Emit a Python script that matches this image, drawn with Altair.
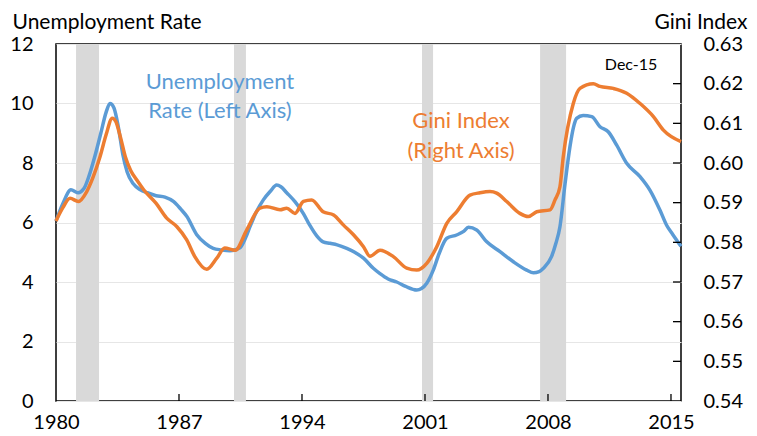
import altair as alt
import pandas as pd

# ---- data ----
un_year = [1980.0, 1980.4, 1980.85, 1981.25, 1981.6, 1981.9, 1982.2, 1982.55, 1982.85, 1983.07,
           1983.3, 1983.55, 1983.8, 1984.05, 1984.4, 1984.8, 1985.2, 1985.7, 1986.2, 1986.7,
           1987.1, 1987.45, 1988.0, 1988.5, 1988.95, 1989.4, 1989.9, 1990.47, 1990.8, 1991.04,
           1991.4, 1991.8, 1992.2, 1992.56, 1992.8, 1993.13, 1993.6, 1994.08, 1994.45, 1994.84,
           1995.2, 1995.6, 1996.0, 1996.55, 1997.0, 1997.5, 1998.06, 1998.44, 1998.9, 1999.39,
           1999.9, 2000.53, 2000.8, 2001.1, 2001.47, 2001.8, 2002.24, 2002.8, 2003.2, 2003.47,
           2003.94, 2004.5, 2005.27, 2006.03, 2006.79, 2007.17, 2007.5, 2007.74, 2008.2, 2008.45,
           2008.68, 2008.97, 2009.25, 2009.45, 2009.63, 2010.0, 2010.49, 2010.96, 2011.43, 2011.91,
           2012.48, 2013.24, 2013.8, 2014.37, 2014.76, 2015.1, 2015.57]
un_rate = [6.05, 6.65, 7.1, 7.0, 7.15, 7.6, 8.2, 9.0, 9.7, 10.0,
           9.85, 9.2, 8.3, 7.7, 7.3, 7.1, 7.0, 6.9, 6.85, 6.7,
           6.45, 6.2, 5.6, 5.3, 5.13, 5.08, 5.05, 5.15, 5.5, 5.86,
           6.35, 6.76, 7.05, 7.26, 7.2, 7.0, 6.7, 6.3, 5.9, 5.55,
           5.35, 5.3, 5.25, 5.13, 5.0, 4.8, 4.46, 4.28, 4.1, 4.0,
           3.85, 3.73, 3.78, 3.96, 4.4, 4.95, 5.47, 5.58, 5.7, 5.84,
           5.75, 5.36, 5.02, 4.68, 4.4, 4.31, 4.35, 4.46, 4.85, 5.3,
           5.86, 7.3, 8.55, 9.2, 9.5, 9.6, 9.56, 9.22, 9.05, 8.6,
           7.99, 7.54, 7.09, 6.42, 5.9, 5.6, 5.2]

gini_year = [1980.0, 1980.4, 1980.8, 1981.27, 1981.75, 1982.1, 1982.5, 1982.85, 1983.2, 1983.4,
             1983.65, 1983.95, 1984.25, 1984.6, 1985.0, 1985.7, 1986.3, 1986.87, 1987.44, 1987.9,
             1988.58, 1989.15, 1989.6, 1990.2, 1990.85, 1991.6, 1992.0, 1992.75, 1993.13, 1993.6,
             1994.08, 1994.55, 1995.2, 1995.8, 1996.35, 1996.93, 1997.5, 1997.87, 1998.44, 1999.2,
             1999.96, 2000.53, 2001.1, 2001.67, 2002.24, 2002.8, 2003.56, 2004.13, 2004.7, 2005.08,
             2005.65, 2006.4, 2006.88, 2007.36, 2008.12, 2008.4, 2008.68, 2008.87, 2009.44, 2009.82,
             2010.58, 2010.96, 2011.72, 2012.48, 2013.24, 2014.0, 2014.57, 2015.57]
gini_val = [0.5854, 0.5888, 0.5911, 0.5903, 0.5928, 0.5963, 0.6015, 0.6071, 0.6113, 0.6105,
            0.6068, 0.6015, 0.5981, 0.5957, 0.5932, 0.5898, 0.5861, 0.5840, 0.5806, 0.5764,
            0.5732, 0.5760, 0.5786, 0.5780, 0.5831, 0.5886, 0.5890, 0.5882, 0.5886, 0.5873,
            0.5903, 0.5907, 0.5877, 0.5869, 0.5844, 0.5819, 0.5789, 0.5765, 0.5780, 0.5764,
            0.5735, 0.5730, 0.5747, 0.5789, 0.5848, 0.5877, 0.5919, 0.5925, 0.5928, 0.5924,
            0.5903, 0.5873, 0.5865, 0.5877, 0.5882, 0.5907, 0.5940, 0.6016, 0.6150, 0.6188,
            0.6200, 0.6193, 0.6188, 0.6176, 0.6150, 0.6117, 0.6083, 0.6054]

rec_start = [1981.14, 1990.13, 2000.83, 2007.55]
rec_end = [1982.45, 1990.81, 2001.46, 2009.03]

x_ticks = [1980, 1987, 1994, 2001, 2008, 2015]
x_inner_ticks = [1987, 1994, 2001, 2008, 2015]
left_ticks = [0, 2, 4, 6, 8, 10, 12]
right_ticks = [0.54, 0.55, 0.56, 0.57, 0.58, 0.59, 0.60, 0.61, 0.62, 0.63]
right_inner_ticks = [0.55, 0.56, 0.57, 0.58, 0.59, 0.60, 0.61, 0.62]

blue_text = ["Unemployment", "Rate (Left Axis)"]
blue_text_year = [1989.33, 1989.33]
blue_text_u = [10.71, 9.75]
orange_text = ["Gini Index", "(Right Axis)"]
orange_text_year = [2003.05, 2003.05]
orange_text_u = [9.41, 8.39]
end_text = ["Dec-15"]
end_text_year = [2012.73]
end_text_u = [11.28]

BLUE = "#5B9BD5"
ORANGE = "#ED7D31"
FONT = "Lato"
W, H = 625, 357

# ---- shared encodings ----
xscale = alt.Scale(domain=[1980, 2015.57], nice=False, zero=False)
xaxis = alt.Axis(title=None, values=x_ticks, format="d", ticks=False, tickSize=0, domain=False,
                 grid=False, labelFontSize=20, labelFont=FONT, labelColor="black",
                 labelPadding=11, labelFlush=False, labelOverlap=False)
yl_scale = alt.Scale(domain=[0, 12], nice=False)
yl_axis = alt.Axis(orient="left", title="Unemployment Rate", titleAngle=0, titleAlign="left",
                   titleBaseline="alphabetic", titleX=-44, titleY=-16, titleFont=FONT,
                   titleFontSize=21, titleFontWeight="normal", titleColor="black",
                   values=left_ticks, labelFontSize=20, labelFont=FONT, labelColor="black",
                   labelPadding=23, ticks=False, tickSize=0, domain=False, grid=True,
                   gridColor="#E6E6E6", gridWidth=1)
yr_scale = alt.Scale(domain=[0.54, 0.63], nice=False, zero=False)
yr_axis = alt.Axis(orient="right", title="Gini Index", titleAngle=0, titleAlign="right",
                   titleBaseline="alphabetic", titleX=66, titleY=-16, titleFont=FONT,
                   titleFontSize=21, titleFontWeight="normal", titleColor="black",
                   values=right_ticks, format=".2f", labelFontSize=20, labelFont=FONT,
                   labelColor="black", labelPadding=22, ticks=False, tickSize=0,
                   domain=False, grid=False)

def X(field):
    return alt.X(f"{field}:Q", scale=xscale, axis=xaxis)

def YL(field):
    return alt.Y(f"{field}:Q", scale=yl_scale, axis=yl_axis)

def YR(field):
    return alt.Y(f"{field}:Q", scale=yr_scale, axis=yr_axis)

rec_df = pd.DataFrame({"start": rec_start, "end": rec_end})
un_df = pd.DataFrame({"year": un_year, "u": un_rate})
gini_df = pd.DataFrame({"year": gini_year, "gini": gini_val})
xt_df = pd.DataFrame({"year": x_inner_ticks})
rt_df = pd.DataFrame({"gini": right_inner_ticks})
bt_df = pd.DataFrame({"year": blue_text_year, "u": blue_text_u, "t": blue_text})
ot_df = pd.DataFrame({"year": orange_text_year, "u": orange_text_u, "t": orange_text})
et_df = pd.DataFrame({"year": end_text_year, "u": end_text_u, "t": end_text})

rects = alt.Chart(rec_df).mark_rect(color="#D9D9D9").encode(
    x=X("start"), x2="end:Q", y=alt.value(0), y2=alt.value(H)
)
blue_line = alt.Chart(un_df).mark_line(color=BLUE, strokeWidth=3.5, interpolate="monotone").encode(
    x=X("year"), y=YL("u")
)
xticks = alt.Chart(xt_df).mark_rule(color="black", strokeWidth=1.3).encode(
    x=X("year"), y=alt.value(H), y2=alt.value(H - 7)
)
btext = alt.Chart(bt_df).mark_text(color=BLUE, font=FONT, fontSize=22, align="center",
                                   baseline="middle").encode(x=X("year"), y=YL("u"), text="t:N")
otext = alt.Chart(ot_df).mark_text(color=ORANGE, font=FONT, fontSize=22, align="center",
                                   baseline="middle").encode(x=X("year"), y=YL("u"), text="t:N")
etext = alt.Chart(et_df).mark_text(color="black", font=FONT, fontSize=16, align="center",
                                   baseline="middle").encode(x=X("year"), y=YL("u"), text="t:N")

orange_line = alt.Chart(gini_df).mark_line(color=ORANGE, strokeWidth=3.5, interpolate="monotone").encode(
    x=X("year"), y=YR("gini")
)
rticks = alt.Chart(rt_df).mark_rule(color="black", strokeWidth=1.3).encode(
    y=YR("gini"), x=alt.value(W), x2=alt.value(W - 8)
)

left = alt.layer(rects, blue_line, xticks, btext, otext, etext)
right = alt.layer(orange_line, rticks)

chart = (
    alt.layer(left, right)
    .resolve_scale(y="independent")
    .properties(
        width=W, height=H,
        padding={"left": 48, "top": 36, "right": 68, "bottom": 33},
        autosize=alt.AutoSizeParams(type="none"),
    )
    .configure(font=FONT)
    .configure_view(stroke="black", strokeWidth=1.5)
)

chart.save("out.html", embed_options={"renderer": "svg", "actions": False})
